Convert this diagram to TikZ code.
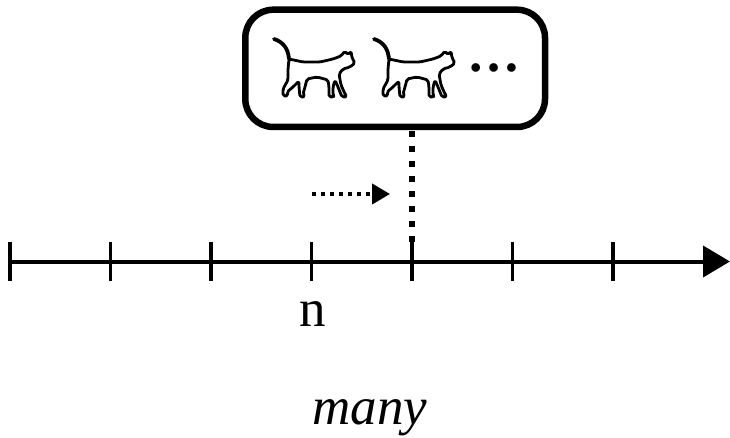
\documentclass[tikz,border=0pt]{standalone}
\usepackage{fontspec}
\setmainfont{Liberation Serif}
\usetikzlibrary{arrows.meta}
\tikzset{
  catbody/.style={line width=2.8pt, line join=round, rounded corners=1.8pt, fill=white},
  cattail/.style={line width=3.8pt, line cap=round},
  cat/.pic={
    \draw[catbody] (19,24) -- (33,27) -- (50,27) -- (63,24) -- (71,21) -- (75,16)
      -- (78,20) -- (81,16) -- (82,23) -- (85,28) -- (80,32) -- (73,34) -- (69,39)
      -- (71,50) -- (75,59) -- (77,62) -- (72,62) -- (68,52) -- (65,45) -- (63,52)
      -- (63,60) -- (64,62) -- (59,62) -- (59,52) -- (58,45) -- (47,42) -- (37,44)
      -- (35,52) -- (33,59) -- (35,62) -- (30,62) -- (29,52) -- (29,46) -- (23,52)
      -- (17,57) -- (18,61) -- (13,61) -- (13,54) -- (18,45) -- (18,34) -- cycle;
    \draw[cattail] (19,24) .. controls (18,13) and (13,7) .. (4,4);
  },
  framebox/.style={draw, line width=6.5pt, rounded corners=28pt, minimum width=299.7pt, minimum height=117.3pt, inner sep=0pt},
  axisline/.style={line width=4pt, -{Triangle[length=27pt,width=31pt]}},
  tickline/.style={line width=3.5pt},
  vdots/.style={line width=6.5pt, dash pattern=on 6pt off 9pt},
  harrow/.style={line width=4pt, dash pattern=on 4pt off 5pt, -{Triangle[length=18pt,width=20pt]}},
  lbl/.style={font=\fontsize{53pt}{60pt}\selectfont, inner sep=0pt, anchor=base},
}
\begin{document}
\begin{tikzpicture}[x=1pt,y=-1pt]
\useasboundingbox (0,0) rectangle (730,438);
% box with cats
\node[framebox] (box) at (395.15,68.35) {};
\pic at (270,35) {cat};
\pic at (370,35) {cat};
\node[lbl] (dots) at (493.5,71.2) {\bfseries …};
% axis
\coordinate (a0) at (10,261.5);
\coordinate (aend) at (730,261.5);
\draw[axisline] (a0) -- (aend);
\foreach \i in {0,...,6} {
  \coordinate (t\i) at ({10+100.5*\i},261.5);
  \draw[tickline] ([yshift=19.5pt]t\i) -- ([yshift=-19.5pt]t\i);
}
% dotted vertical from box to tick 4
\coordinate (vtop) at (t4 |- box.south);
\draw[vdots] ([yshift=-1pt]vtop) -- ([yshift=19.5pt]t4);
% dotted arrow
\coordinate (hs) at (312,194);
\coordinate (he) at (390,194);
\draw[harrow] (hs) -- (he);
% labels
\node[lbl] (n) at (313,326) {n};
\node[lbl] (many) at (370,424) {\itshape many};
\end{tikzpicture}
\end{document}
